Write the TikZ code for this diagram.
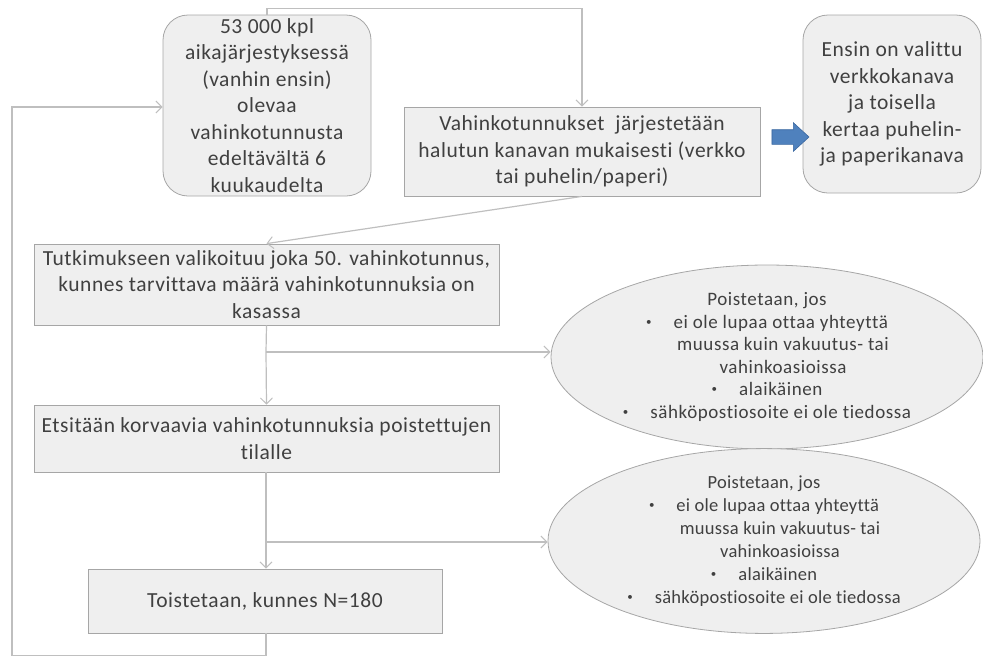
\documentclass[tikz,border=0pt]{standalone}
\usepackage{fontspec}
\setmainfont[Ligatures=NoCommon]{Carlito}
\usetikzlibrary{arrows.meta,shapes.geometric,shapes.arrows}
\definecolor{boxfill}{HTML}{EFEFEF}
\definecolor{boxline}{HTML}{A6A6A6}
\definecolor{conn}{HTML}{BFBFBF}
\definecolor{txt}{HTML}{404040}
\definecolor{bluefill}{HTML}{4F81BD}
\definecolor{blueline}{HTML}{3A67A0}
\newcommand{\smbul}{\raisebox{3.2pt}{\fontsize{11}{11}\selectfont\textbullet}}
\tikzset{
  rbox/.style={draw=boxline, fill=boxfill, line width=0.8pt, rounded corners=25pt, inner sep=0pt, align=center, text=txt, font=\fontsize{21.5}{26.5}\selectfont\addfontfeatures{LetterSpace=2.5}},
  sbox/.style={draw=boxline, fill=boxfill, line width=0.8pt, inner sep=0pt, align=center, text=txt, font=\fontsize{21.5}{26.5}\selectfont\addfontfeatures{LetterSpace=2.5}},
  ebox/.style={ellipse, draw=boxline, fill=boxfill, line width=0.8pt, inner sep=0pt, align=center, text=txt, font=\fontsize{19}{22.5}\selectfont\addfontfeatures{LetterSpace=3}},
  ebox2/.style={ebox, font=\fontsize{18.5}{23}\selectfont\addfontfeatures{LetterSpace=1.5}},
  conn/.style={draw=conn, line width=1.2pt, -{Straight Barb[length=6pt,width=12pt,line width=1pt]}},
  plain/.style={draw=conn, line width=1.2pt}
}
\begin{document}
\begin{tikzpicture}[x=1pt,y=-1pt]
\useasboundingbox (0,0) rectangle (983,659);

\node[rbox, minimum width=208pt, minimum height=181pt] (b1) at (267,105.5)
  {53 000 kpl\\aikajärjestyksessä\\(vanhin ensin)\\olevaa\\vahinkotunnusta\\edeltävältä 6\\kuukaudelta};
\node[sbox, minimum width=356pt, minimum height=89pt] (b2) at (582,151.5)
  {Vahinkotunnukset\ \ järjestetään\\halutun kanavan mukaisesti (verkko\\tai puhelin/paperi)};
\node[rbox, minimum width=178pt, minimum height=178pt] (b3) at (892,104)
  {Ensin on valittu\\verkkokanava\\ja toisella\\kertaa puhelin-\\ja paperikanava};
\node[single arrow, draw=blueline, fill=bluefill, line width=0.6pt, inner sep=7pt, minimum height=37pt, single arrow head extend=7pt, single arrow tip angle=85] (ba) at (786.5,137) {};

\node[sbox, minimum width=465pt, minimum height=81pt] (b4) at (266.5,284.5)
  {Tutkimukseen valikoituu joka 50. vahinkotunnus,\\kunnes tarvittava määrä vahinkotunnuksia on\\kasassa};
\node[sbox, minimum width=465pt, minimum height=67pt] (b5) at (266.5,438.5)
  {Etsitään korvaavia vahinkotunnuksia poistettujen\\tilalle};
\node[sbox, minimum width=354pt, minimum height=64pt] (b6) at (265,601)
  {Toistetaan, kunnes N=180};

\node[ebox, minimum width=432pt, minimum height=184pt] (e1) at (767,357)
  {Poistetaan, jos\\
   \smbul\hspace{22pt}ei ole lupaa ottaa yhteyttä\\
   \hspace*{32pt}muussa kuin vakuutus- tai\\
   \hspace*{32pt}vahinkoasioissa\\
   \smbul\hspace{22pt}alaikäinen\\
   \smbul\hspace{22pt}sähköpostiosoite ei ole tiedossa};
\node[ebox2, minimum width=432pt, minimum height=168pt] (e2) at (764,541)
  {Poistetaan, jos\\
   \smbul\hspace{22pt}ei ole lupaa ottaa yhteyttä\\
   \hspace*{32pt}muussa kuin vakuutus- tai\\
   \hspace*{32pt}vahinkoasioissa\\
   \smbul\hspace{22pt}alaikäinen\\
   \smbul\hspace{22pt}sähköpostiosoite ei ole tiedossa};

\coordinate (j1) at (266,352);
\coordinate (j2) at (266,542);

\draw[conn] (b1.north) -- ++(0,-6) -| (b2.north);
\draw[conn] (b2.south) -- (b4.north);
\draw[plain] (b4.south) -- (j1);
\draw[conn] (j1) -- (b5.north);
\draw[conn] (j1) -- (e1.west |- j1);
\draw[plain] (b5.south -| j1) -- (j2);
\draw[conn] (j2) -- (b6.north -| j2);
\draw[conn] (j2) -- (e2.west |- j2);
\draw[conn] (b6.south -| j2) -- ++(0,22) -| (12,107) -- (b1.west |- 0,107);
\end{tikzpicture}
\end{document}
